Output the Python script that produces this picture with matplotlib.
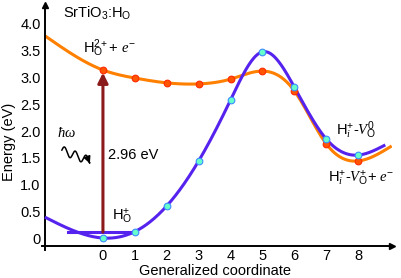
import numpy as np
import matplotlib
matplotlib.use("Agg")
import matplotlib.pyplot as plt
from matplotlib.path import Path
from matplotlib.patches import FancyArrowPatch

plt.rcParams['font.family'] = ['Liberation Sans', 'DejaVu Sans']
plt.rcParams['font.size'] = 10.5
plt.rcParams['mathtext.fontset'] = 'custom'
plt.rcParams['mathtext.rm'] = 'Liberation Sans'
plt.rcParams['mathtext.it'] = 'Liberation Serif:italic'
plt.rcParams['mathtext.bf'] = 'Liberation Sans:bold'

# data
coord = [0, 1, 2, 3, 4, 5, 6, 7, 8]
e_ho_plus = [0.0, 0.12, 0.60, 1.44, 2.58, 3.48, 2.82, 1.85, 1.55]
e_ho_2plus = [3.14, 2.99, 2.90, 2.88, 2.97, 3.12, 2.75, 1.76, 1.44]
# where the drawn curves start and end beyond the points
blue_ends_x = [-1.82, 8.85]
blue_ends_y = [0.39, 1.74]
orange_ends_x = [-1.82, 9.05]
orange_ends_y = [3.78, 1.72]
x_ticks = [0, 1, 2, 3, 4, 5, 6, 7, 8]
y_ticks = [0, 0.5, 1.0, 1.5, 2.0, 2.5, 3.0, 3.5, 4.0]
y_tick_labels = ['0', '0.5', '1.0', '1.5', '2.0', '2.5', '3.0', '3.5', '4.0']
gap_energy = 2.96
ho_level = 0.11

BLUE = '#5522ee'
ORANGE = '#ff8000'
ARROW = '#8b1a1a'


def natural_spline(xk, yk, n=400):
    # smooth curve through the knots (natural cubic spline)
    xk = np.asarray(xk, float)
    yk = np.asarray(yk, float)
    h = np.diff(xk)
    m = len(xk)
    A = np.zeros((m, m))
    b = np.zeros(m)
    A[0, 0] = A[-1, -1] = 1
    for i in range(1, m - 1):
        A[i, i - 1] = h[i - 1]
        A[i, i] = 2 * (h[i - 1] + h[i])
        A[i, i + 1] = h[i]
        b[i] = 6 * ((yk[i + 1] - yk[i]) / h[i] - (yk[i] - yk[i - 1]) / h[i - 1])
    M = np.linalg.solve(A, b)
    xs = np.linspace(xk[0], xk[-1], n)
    idx = np.clip(np.searchsorted(xk, xs) - 1, 0, m - 2)
    x0, x1 = xk[idx], xk[idx + 1]
    hh = x1 - x0
    t0, t1 = x1 - xs, xs - x0
    ys = (M[idx] * t0 ** 3 + M[idx + 1] * t1 ** 3) / (6 * hh) \
        + (yk[idx] / hh - M[idx] * hh / 6) * t0 \
        + (yk[idx + 1] / hh - M[idx + 1] * hh / 6) * t1
    return xs, ys


fig = plt.figure(figsize=(4.02, 2.78), dpi=100)
ax = fig.add_axes([0.1045, 0.1007, 0.8706, 0.8813])
xmin, xmax = -1.91, 9.06
ymin, ymax = -0.224, 4.355
ax.set_xlim(xmin, xmax)
ax.set_ylim(ymin, ymax)

for s in ['top', 'right']:
    ax.spines[s].set_visible(False)
ax.spines['left'].set_position(('data', -1.82))
ax.spines['bottom'].set_position(('data', -0.15))
ax.spines['left'].set_linewidth(1.4)
ax.spines['bottom'].set_linewidth(1.4)
ax.plot(xmax, -0.15, '>k', ms=5, clip_on=False)
ax.plot(-1.82, ymax, '^k', ms=5, clip_on=False)

ax.set_xticks(x_ticks)
ax.set_yticks(y_ticks)
ax.set_yticklabels(y_tick_labels)
ax.tick_params(length=0, pad=3)
ax.tick_params(axis='x', pad=2)

# curves
bx, by = natural_spline([blue_ends_x[0]] + coord + [blue_ends_x[1]],
                        [blue_ends_y[0]] + e_ho_plus + [blue_ends_y[1]])
ox, oy = natural_spline([orange_ends_x[0]] + coord + [orange_ends_x[1]],
                        [orange_ends_y[0]] + e_ho_2plus + [orange_ends_y[1]])
ax.plot(ox, oy, color=ORANGE, lw=2.2, zorder=2, solid_capstyle='butt')
ax.plot(bx, by, color=BLUE, lw=2.2, zorder=3, solid_capstyle='butt')

ax.plot(coord, e_ho_2plus, 'o', ms=4.8, mfc='#ff5500', mec='#ff2a00', mew=0.8, zorder=5)
ax.plot(coord, e_ho_plus, 'o', ms=4.8, mfc='#66ffcc', mec='#3a8cff', mew=0.8, zorder=5)

# ground level and excitation arrow
ax.plot([-1.1, 1.0], [ho_level, ho_level], color=BLUE, lw=2.2, zorder=3)
ax.annotate('', xy=(0, gap_energy + ho_level + 0.02), xytext=(0, ho_level),
            arrowprops=dict(arrowstyle='-|>', color=ARROW, lw=2.2,
                            mutation_scale=15, shrinkA=0, shrinkB=0),
            zorder=4)

# photon wave
t = np.linspace(0, 1, 200)
wx = -1.29 + 0.88 * t
wy = 1.64 - 0.2 * t + 0.08 * np.sin(2 * np.pi * 2.6 * t)
wverts = list(zip(wx, wy))
wave = FancyArrowPatch(path=Path(wverts), arrowstyle='-|>', mutation_scale=10,
                       color='black', lw=1.1)
ax.add_patch(wave)

ax.text(-1.25, 4.19, r'SrTiO$_3$:H$_\mathrm{O}$', ha='left', va='center')
ax.text(-0.63, 3.46, r'H$_\mathrm{O}^{2+}$+ $e^{-}$', ha='left', va='baseline')
ax.text(-1.44, 1.89, r'$\hbar\omega$', ha='left', va='baseline')
ax.text(0.16, 1.55, '%.2f eV' % gap_energy, ha='left', va='center')
ax.text(0.28, 0.34, r'H$_\mathrm{O}^{+}$', ha='left', va='baseline')
ax.text(7.3, 1.94, r'H$_i^{+}$-$V_\mathrm{O}^{0}$', ha='left', va='baseline')
ax.text(7.05, 1.05, r'H$_i^{+}$-$V_\mathrm{O}^{+}$+ $e^{-}$', ha='left', va='baseline')

ax.set_xlabel('Generalized coordinate', va='center')
ax.xaxis.set_label_coords(0.494, -0.085)
ax.set_ylabel('Energy (eV)', va='center')
ax.yaxis.set_label_coords(-0.095, 0.44)

fig.savefig('out.png', dpi=100)
